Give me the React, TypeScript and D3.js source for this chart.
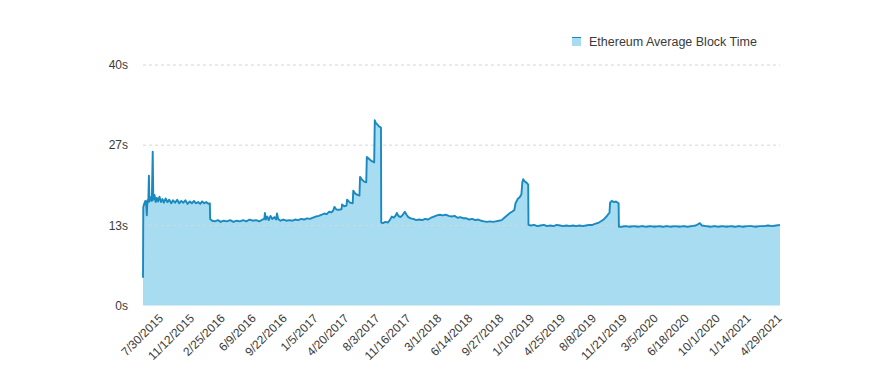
import * as d3 from 'd3'

const dates = [
  '2015-07-30', '2015-07-31', '2015-08-03', '2015-08-07', '2015-08-10', '2015-08-12', '2015-08-14', '2015-08-17',
  '2015-08-19', '2015-08-21', '2015-08-25', '2015-08-29', '2015-09-01', '2015-09-03', '2015-09-07', '2015-09-11',
  '2015-09-15', '2015-09-19', '2015-09-24', '2015-09-29', '2015-10-04', '2015-10-09', '2015-10-15', '2015-10-21',
  '2015-10-27', '2015-11-03', '2015-11-09', '2015-11-16', '2015-11-23', '2015-11-30', '2015-12-07', '2015-12-14',
  '2015-12-21', '2015-12-28', '2016-01-05', '2016-01-12', '2016-01-19', '2016-01-26', '2016-02-02', '2016-02-09',
  '2016-02-16', '2016-02-23', '2016-03-01', '2016-03-08', '2016-03-13', '2016-03-14',
  '2016-03-21', '2016-03-30', '2016-04-09', '2016-04-19', '2016-04-29', '2016-05-10', '2016-05-21', '2016-06-01',
  '2016-06-12', '2016-06-23', '2016-07-04', '2016-07-15', '2016-07-26', '2016-08-06', '2016-08-17', '2016-08-28',
  '2016-09-08', '2016-09-14', '2016-09-16', '2016-09-19', '2016-09-24', '2016-09-29', '2016-10-05', '2016-10-11',
  '2016-10-18', '2016-10-24', '2016-10-27', '2016-10-31', '2016-11-08', '2016-11-18', '2016-11-28', '2016-12-08',
  '2016-12-18', '2016-12-28', '2017-01-07', '2017-01-17', '2017-01-27', '2017-02-06', '2017-02-16', '2017-02-26',
  '2017-03-08', '2017-03-18', '2017-03-28', '2017-04-06', '2017-04-14', '2017-04-22', '2017-04-30', '2017-05-06',
  '2017-05-10', '2017-05-16', '2017-05-22', '2017-06-03', '2017-06-05', '2017-06-12', '2017-06-20', '2017-06-22',
  '2017-07-02', '2017-07-11', '2017-07-13', '2017-07-20', '2017-07-27', '2017-08-03', '2017-08-05', '2017-08-12',
  '2017-08-19', '2017-08-26', '2017-08-28', '2017-09-04', '2017-09-11', '2017-09-18', '2017-09-22', '2017-09-24',
  '2017-09-28', '2017-10-03', '2017-10-08', '2017-10-15', '2017-10-16',
  '2017-10-22', '2017-10-30', '2017-11-07', '2017-11-14', '2017-11-21', '2017-11-28', '2017-12-04', '2017-12-08',
  '2017-12-13', '2017-12-20', '2017-12-27', '2018-01-04', '2018-01-10', '2018-01-16', '2018-01-24', '2018-02-02',
  '2018-02-12', '2018-02-22', '2018-03-04', '2018-03-14', '2018-03-24', '2018-04-03', '2018-04-13', '2018-04-23',
  '2018-05-03', '2018-05-13', '2018-05-23', '2018-06-02', '2018-06-12', '2018-06-22', '2018-07-02', '2018-07-12',
  '2018-07-22', '2018-08-01', '2018-08-11', '2018-08-21', '2018-08-31', '2018-09-10', '2018-09-20', '2018-09-30',
  '2018-10-10', '2018-10-20', '2018-10-30', '2018-11-09', '2018-11-19', '2018-11-29', '2018-12-06', '2018-12-13',
  '2018-12-20', '2018-12-27', '2019-01-03', '2019-01-11', '2019-01-15', '2019-01-22', '2019-01-29', '2019-02-04',
  '2019-02-07', '2019-02-10', '2019-02-16', '2019-02-22', '2019-02-27', '2019-02-28',
  '2019-03-08', '2019-03-19', '2019-03-30', '2019-04-10', '2019-04-21', '2019-05-02', '2019-05-13', '2019-05-24',
  '2019-06-04', '2019-06-15', '2019-06-26', '2019-07-07', '2019-07-18', '2019-07-29', '2019-08-09', '2019-08-20',
  '2019-08-31', '2019-09-11', '2019-09-22', '2019-10-03', '2019-10-14', '2019-10-25', '2019-11-04', '2019-11-12',
  '2019-11-20', '2019-11-26', '2019-11-30', '2019-12-02', '2019-12-08', '2019-12-15', '2019-12-22', '2019-12-31',
  '2020-01-01',
  '2020-01-10', '2020-01-24', '2020-02-07', '2020-02-21', '2020-03-06', '2020-03-20', '2020-04-03', '2020-04-17',
  '2020-05-01', '2020-05-15', '2020-05-29', '2020-06-12', '2020-06-26', '2020-07-10', '2020-07-24', '2020-08-07',
  '2020-08-21', '2020-09-04', '2020-09-18', '2020-10-02', '2020-10-09', '2020-10-23', '2020-11-06', '2020-11-20',
  '2020-12-04', '2020-12-18', '2021-01-01', '2021-01-15', '2021-01-29', '2021-02-12', '2021-02-26', '2021-03-12',
  '2021-03-26', '2021-04-09', '2021-04-23', '2021-05-07', '2021-05-21', '2021-06-04', '2021-06-18', '2021-07-01',
]

const blockTime = [
  4.6, 16.4, 16.9, 17.4, 16.6, 15.0, 17.5, 17.2,
  21.6, 17.3, 18.0, 17.4, 25.6, 17.6, 18.4, 17.2,
  17.9, 17.3, 18.1, 17.2, 17.7, 17.1, 17.8, 17.2,
  17.6, 17.0, 17.5, 17.1, 17.6, 17.0, 17.4, 17.1,
  17.5, 16.9, 17.3, 17.0, 17.4, 17.0, 17.2, 16.9,
  17.3, 17.0, 17.2, 16.9, 17.0, 14.4,
  14.1, 14.0, 14.2, 13.9, 14.1, 14.0, 14.2, 13.9,
  14.1, 14.0, 14.2, 14.0, 14.3, 14.1, 14.2, 14.0,
  14.3, 14.4, 15.4, 14.3, 14.8, 14.2, 14.9, 14.4,
  14.7, 14.3, 15.3, 14.4, 14.1, 14.3, 14.1, 14.2,
  14.1, 14.3, 14.2, 14.4, 14.3, 14.5, 14.4, 14.6,
  14.8, 14.9, 15.1, 15.3, 15.2, 15.6, 15.5, 15.8,
  16.4, 16.0, 15.9, 16.0, 16.8, 16.5, 16.6, 17.6,
  17.1, 17.0, 19.1, 18.6, 18.4, 18.3, 21.4, 20.9,
  20.6, 20.5, 24.7, 24.4, 24.1, 23.9, 23.8, 30.8,
  30.3, 30.1, 29.8, 29.6, 13.8,
  13.7, 13.9, 13.8, 14.2, 14.8, 14.6, 15.0, 15.4,
  14.9, 14.7, 15.0, 15.6, 15.1, 14.7, 14.5, 14.4,
  14.2, 14.3, 14.2, 14.4, 14.3, 14.6, 14.8, 15.0,
  15.1, 15.0, 15.1, 14.9, 14.8, 14.9, 14.6, 14.7,
  14.5, 14.5, 14.3, 14.4, 14.2, 14.3, 14.1, 14.0,
  13.9, 14.0, 13.9, 14.0, 14.1, 14.2, 14.5, 14.8,
  15.1, 15.4, 15.6, 15.9, 17.0, 17.7, 18.0, 18.5,
  20.5, 21.0, 20.6, 20.4, 20.1, 13.4,
  13.3, 13.4, 13.2, 13.3, 13.4, 13.2, 13.3, 13.2,
  13.4, 13.3, 13.2, 13.3, 13.2, 13.3, 13.2, 13.3,
  13.2, 13.3, 13.4, 13.4, 13.6, 13.8, 14.1, 14.4,
  14.8, 15.2, 15.4, 17.1, 17.4, 17.2, 17.3, 17.0,
  13.1,
  13.1, 13.2, 13.1, 13.2, 13.1, 13.2, 13.1, 13.2,
  13.1, 13.2, 13.1, 13.2, 13.1, 13.2, 13.1, 13.2,
  13.1, 13.2, 13.3, 13.7, 13.3, 13.2, 13.1, 13.2,
  13.1, 13.2, 13.1, 13.2, 13.1, 13.2, 13.1, 13.2,
  13.2, 13.1, 13.2, 13.2, 13.3, 13.2, 13.3, 13.4,
]

const tickLabels = [
  '7/30/2015', '11/12/2015', '2/25/2016', '6/9/2016', '9/22/2016', '1/5/2017', '4/20/2017',
  '8/3/2017', '11/16/2017', '3/1/2018', '6/14/2018', '9/27/2018', '1/10/2019', '4/25/2019',
  '8/8/2019', '11/21/2019', '3/5/2020', '6/18/2020', '10/1/2020', '1/14/2021', '4/29/2021',
]

const yTicks = [0, 40 / 3, 80 / 3, 40]
const seriesName = 'Ethereum Average Block Time'

const W = 870
const H = 385
const FONT = '"Liberation Sans", Arial, Helvetica, sans-serif'
const FILL = '#a8dcf1'
const LINE = '#1a89c0'

const parseIso = d3.utcParse('%Y-%m-%d')
const parseUs = d3.utcParse('%m/%d/%Y')

export default function App() {
  const data = dates.map((d, i) => ({ date: parseIso(d) as Date, value: blockTime[i] }))

  const x = d3.scaleUtc()
    .domain([data[0].date, parseIso('2021-07-01') as Date])
    .range([143, 780])
  const y = d3.scaleLinear().domain([0, 40]).range([305.5, 65])

  const area = d3.area<{ date: Date; value: number }>()
    .x(d => x(d.date))
    .y0(y(0))
    .y1(d => y(d.value))
  const line = d3.line<{ date: Date; value: number }>()
    .x(d => x(d.date))
    .y(d => y(d.value))

  // rotated labels sit a little right of their date, like the source chart
  const labelShift = 21

  return (
    <svg width={W} height={H} style={{ position: 'absolute', left: 0, top: 0, fontFamily: FONT }}>
      <rect width={W} height={H} fill="#fff" />

      <path d={area(data) ?? ''} fill={FILL} />

      {yTicks.slice(1).map(t => (
        <line key={t} x1={143} x2={780} y1={y(t)} y2={y(t)}
          stroke="#d6d6d6" strokeDasharray="3,3" strokeWidth={1} />
      ))}

      <path d={line(data) ?? ''} fill="none" stroke={LINE} strokeWidth={1.9} strokeLinejoin="round" />

      {yTicks.map(t => (
        <text key={t} x={128} y={y(t)} dy="0.35em" textAnchor="end" fontSize={12} fill="#3a3a3a">
          {`${Math.round(t)}s`}
        </text>
      ))}

      {tickLabels.map(l => {
        const tx = x(parseUs(l) as Date) + labelShift
        return (
          <text key={l} transform={`translate(${tx},319) rotate(-45)`} textAnchor="end"
            fontSize={12} fill="#3a3a3a">
            {l}
          </text>
        )
      })}

      <g transform="translate(572,37)">
        <rect width={9} height={9} fill={FILL} />
        <line x1={0} x2={9} y1={0.5} y2={0.5} stroke={LINE} strokeWidth={1} />
        <text x={17} y={9} fontSize={12.5} fill="#3a3a3a">{seriesName}</text>
      </g>
    </svg>
  )
}
